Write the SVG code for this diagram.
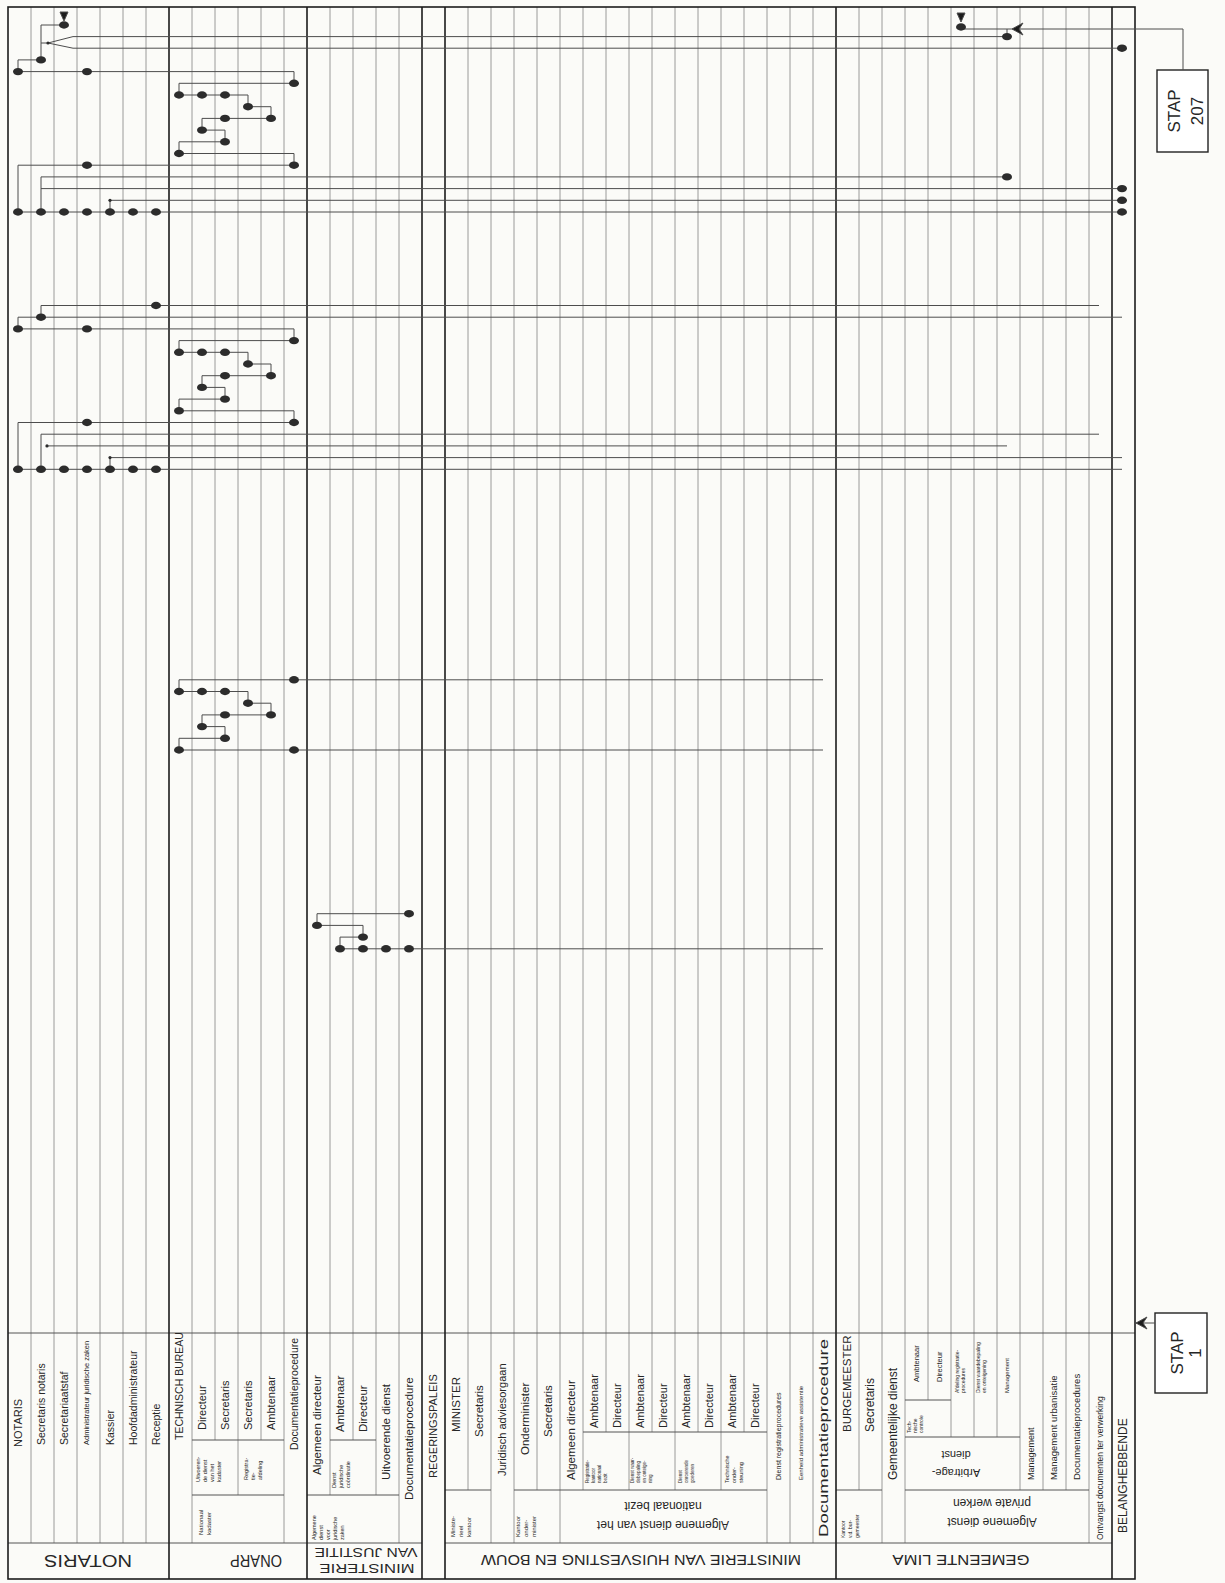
<svg xmlns="http://www.w3.org/2000/svg" width="1225" height="1583" viewBox="0 0 1225 1583">
<style>
.ln{stroke:#8e8e8e;stroke-width:0.9;fill:none}
.gd{stroke:#1c1c1c;stroke-width:1.6;fill:none}
.hl{stroke:#555;stroke-width:1;fill:none}
.c{stroke:#4d4d4d;stroke-width:1;fill:none}
.t{font-family:"Liberation Sans",Arial,sans-serif;fill:#262626}
.box{fill:#fff;stroke:#222;stroke-width:1.4}
</style>
<defs>
<ellipse id="dt" rx="5" ry="3.7" fill="#2c2c2c"/>
<circle id="sd" r="1.6" fill="#2c2c2c"/>
</defs>
<rect width="1225" height="1583" fill="#fbfbf8"/>

<g id="grid">
<path class="ln" d="M31,7V1543M54,7V1543M77,7V1543M100,7V1543M123,7V1543M146,7V1543
M192,7V1543M215,7V1440M238,7V1495M261,7V1440M284,7V1543
M330,7V1495M353,7V1440M376,7V1495M399,7V1543
M468,7V1490M491,7V1543M514,7V1543M537,7V1490M560,7V1543M583,7V1490M606,7V1432M629,7V1490M652,7V1432M675,7V1490M698,7V1432M721,7V1490M744,7V1432M767,7V1543M790,7V1543M813,7V1543
M859,7V1490M882,7V1543M905,7V1543M928,7V1400M951,7V1437M974,7V1437M997,7V1437M1020,7V1490M1043,7V1490M1066,7V1490M1089,7V1543"/>
<path class="hl" d="M8,1333H1135M8,1543H422M445,1543H1112
M192,1440H284M192,1495H284M330,1440H376M307,1495H399
M445,1490H491M514,1490H560M560,1490H767M583,1432H767
M836,1490H882M905,1400H951M905,1437H1020M905,1490H1089"/>
<path class="gd" d="M169,7V1579M307,7V1579M422,7V1579M445,7V1579M836,7V1579M1112,7V1579"/>
<rect x="8" y="7" width="1127" height="1572" fill="none" stroke="#1c1c1c" stroke-width="1.6"/>
</g>

<g id="labels" class="t">
<text font-size="11" transform="translate(22,1447) rotate(-90)">NOTARIS</text>
<text font-size="10.5" transform="translate(45,1445) rotate(-90)">Secretaris notaris</text>
<text font-size="10.5" transform="translate(68,1445) rotate(-90)">Secretariaatstaf</text>
<text font-size="7.5" transform="translate(89,1445) rotate(-90)">Administrateur juridische zaken</text>
<text font-size="10.5" transform="translate(114,1445) rotate(-90)">Kassier</text>
<text font-size="10.5" transform="translate(137,1445) rotate(-90)">Hoofdadministrateur</text>
<text font-size="10.5" transform="translate(160,1445) rotate(-90)">Receptie</text>
<text font-size="10.5" transform="translate(183,1440) rotate(-90)">TECHNISCH BUREAU</text>
<text font-size="11" transform="translate(206,1430) rotate(-90)">Directeur</text>
<text font-size="11" transform="translate(229,1430) rotate(-90)">Secretaris</text>
<text font-size="11" transform="translate(252,1430) rotate(-90)">Secretaris</text>
<text font-size="11" transform="translate(275,1430) rotate(-90)">Ambtenaar</text>
<text font-size="10.5" transform="translate(298,1450) rotate(-90)">Documentatieprocedure</text>
<text font-size="5.5" transform="translate(200,1482) rotate(-90)">Uitvoeren-</text>
<text font-size="5.5" transform="translate(207,1482) rotate(-90)">de dienst</text>
<text font-size="5.5" transform="translate(214,1482) rotate(-90)">van het</text>
<text font-size="5.5" transform="translate(221,1482) rotate(-90)">kadaster</text>
<text font-size="5.5" transform="translate(248,1480) rotate(-90)">Registra-</text>
<text font-size="5.5" transform="translate(255,1480) rotate(-90)">tie-</text>
<text font-size="5.5" transform="translate(262,1480) rotate(-90)">afdeling</text>
<text font-size="6" transform="translate(203,1535) rotate(-90)">Nationaal</text>
<text font-size="6" transform="translate(211,1535) rotate(-90)">kadaster</text>

<text font-size="11.5" transform="translate(321,1475) rotate(-90)">Algemeen directeur</text>
<text font-size="11.5" transform="translate(344,1432) rotate(-90)">Ambtenaar</text>
<text font-size="11.5" transform="translate(367,1432) rotate(-90)">Directeur</text>
<text font-size="11.5" transform="translate(390,1480) rotate(-90)">Uitvoerende dienst</text>
<text font-size="11.5" transform="translate(413,1500) rotate(-90)">Documentatieprocedure</text>
<text font-size="5.5" transform="translate(336,1488) rotate(-90)">Dienst</text>
<text font-size="5.5" transform="translate(343,1488) rotate(-90)">juridische</text>
<text font-size="5.5" transform="translate(350,1488) rotate(-90)">coördinatie</text>
<text font-size="5.5" transform="translate(316,1540) rotate(-90)">Algemene</text>
<text font-size="5.5" transform="translate(323,1540) rotate(-90)">dienst</text>
<text font-size="5.5" transform="translate(330,1540) rotate(-90)">voor</text>
<text font-size="5.5" transform="translate(337,1540) rotate(-90)">juridische</text>
<text font-size="5.5" transform="translate(344,1540) rotate(-90)">zaken</text>

<text font-size="11" transform="translate(437,1478) rotate(-90)">REGERINGSPALEIS</text>

<text font-size="11.5" transform="translate(460,1432) rotate(-90)">MINISTER</text>
<text font-size="11.5" transform="translate(483,1437) rotate(-90)">Secretaris</text>
<text font-size="11" transform="translate(506,1476) rotate(-90)">Juridisch adviesorgaan</text>
<text font-size="11.5" transform="translate(529,1455) rotate(-90)">Onderminister</text>
<text font-size="11.5" transform="translate(552,1437) rotate(-90)">Secretaris</text>
<text font-size="11.5" transform="translate(575,1480) rotate(-90)">Algemeen directeur</text>
<text font-size="11" transform="translate(598,1428) rotate(-90)">Ambtenaar</text>
<text font-size="11" transform="translate(621,1428) rotate(-90)">Directeur</text>
<text font-size="11" transform="translate(644,1428) rotate(-90)">Ambtenaar</text>
<text font-size="11" transform="translate(667,1428) rotate(-90)">Directeur</text>
<text font-size="11" transform="translate(690,1428) rotate(-90)">Ambtenaar</text>
<text font-size="11" transform="translate(713,1428) rotate(-90)">Directeur</text>
<text font-size="11" transform="translate(736,1428) rotate(-90)">Ambtenaar</text>
<text font-size="11" transform="translate(759,1428) rotate(-90)">Directeur</text>
<text font-size="7" transform="translate(781,1480) rotate(-90)">Dienst registratieprocedures</text>
<text font-size="6" transform="translate(803,1480) rotate(-90)">Eenheid administratieve assistentie</text>
<text font-size="12" transform="translate(828,1537) rotate(-90)" textLength="198" lengthAdjust="spacingAndGlyphs">Documentatieprocedure</text>
<text font-size="6" transform="translate(455,1537) rotate(-90)">Ministe-</text>
<text font-size="6" transform="translate(463,1537) rotate(-90)">rieel</text>
<text font-size="6" transform="translate(471,1537) rotate(-90)">kantoor</text>
<text font-size="6" transform="translate(520,1537) rotate(-90)">Kantoor</text>
<text font-size="6" transform="translate(528,1537) rotate(-90)">onder-</text>
<text font-size="6" transform="translate(536,1537) rotate(-90)">minister</text>
<text font-size="4.5" transform="translate(589,1483) rotate(-90)">Registratie-</text>
<text font-size="4.5" transform="translate(595,1483) rotate(-90)">kantoor</text>
<text font-size="4.5" transform="translate(601,1483) rotate(-90)">nationaal</text>
<text font-size="4.5" transform="translate(607,1483) rotate(-90)">bezit</text>
<text font-size="4.5" transform="translate(634,1483) rotate(-90)">Dienst waar-</text>
<text font-size="4.5" transform="translate(640,1483) rotate(-90)">debepaling</text>
<text font-size="4.5" transform="translate(646,1483) rotate(-90)">en onteige-</text>
<text font-size="4.5" transform="translate(652,1483) rotate(-90)">ning</text>
<text font-size="4.5" transform="translate(682,1483) rotate(-90)">Dienst</text>
<text font-size="4.5" transform="translate(688,1483) rotate(-90)">onroerende</text>
<text font-size="4.5" transform="translate(694,1483) rotate(-90)">goederen</text>
<text font-size="5.5" transform="translate(729,1483) rotate(-90)">Technische</text>
<text font-size="5.5" transform="translate(736,1483) rotate(-90)">onder-</text>
<text font-size="5.5" transform="translate(743,1483) rotate(-90)">steuning</text>

<text font-size="11.5" transform="translate(851,1432) rotate(-90)">BURGEMEESTER</text>
<text font-size="12" transform="translate(874,1432) rotate(-90)">Secretaris</text>
<text font-size="12" transform="translate(897,1480) rotate(-90)">Gemeentelijke dienst</text>
<text font-size="7.5" transform="translate(919,1382) rotate(-90)">Ambtenaar</text>
<text font-size="7.5" transform="translate(942,1382) rotate(-90)">Directeur</text>
<text font-size="5" transform="translate(911,1433) rotate(-90)">Tech-</text>
<text font-size="5" transform="translate(917,1433) rotate(-90)">nische</text>
<text font-size="5" transform="translate(923,1433) rotate(-90)">controle</text>
<text font-size="5" transform="translate(959,1393) rotate(-90)">Afdeling registratie-</text>
<text font-size="5" transform="translate(965,1393) rotate(-90)">procedures</text>
<text font-size="5" transform="translate(980,1393) rotate(-90)">Dienst waardebepaling</text>
<text font-size="5" transform="translate(986,1393) rotate(-90)">en onteigening</text>
<text font-size="6" transform="translate(1009,1393) rotate(-90)">Management</text>
<text font-size="9" transform="translate(1034,1480) rotate(-90)">Management</text>
<text font-size="9.5" transform="translate(1057,1480) rotate(-90)">Management urbanisatie</text>
<text font-size="9.5" transform="translate(1080,1480) rotate(-90)">Documentatieprocedures</text>
<text font-size="8.5" transform="translate(1103,1540) rotate(-90)">Ontvangst documenten ter verwerking</text>
<text font-size="12" transform="translate(1127,1533) rotate(-90)">BELANGHEBBENDE</text>
<text font-size="5" transform="translate(845,1538) rotate(-90)">Kantoor</text>
<text font-size="5" transform="translate(852,1538) rotate(-90)">v.d. bur-</text>
<text font-size="5" transform="translate(859,1538) rotate(-90)">gemeester</text>

<text font-size="12" text-anchor="middle" transform="translate(663,1521) rotate(180)">Algemene dienst van het</text>
<text font-size="12" text-anchor="middle" transform="translate(663,1502) rotate(180)">nationaal bezit</text>
<text font-size="11" text-anchor="middle" transform="translate(956,1469) rotate(180)">Arbitrage-</text>
<text font-size="11" text-anchor="middle" transform="translate(956,1451) rotate(180)">dienst</text>
<text font-size="12" text-anchor="middle" transform="translate(992,1518) rotate(180)">Algemene dienst</text>
<text font-size="12" text-anchor="middle" transform="translate(992,1499) rotate(180)">private werken</text>

<text font-size="16" text-anchor="middle" transform="translate(88,1555) rotate(180)" textLength="88" lengthAdjust="spacingAndGlyphs">NOTARIS</text>
<text font-size="16" text-anchor="middle" transform="translate(256,1555) rotate(180)" textLength="52" lengthAdjust="spacingAndGlyphs">ONARP</text>
<text font-size="13" text-anchor="middle" transform="translate(367,1564) rotate(180)" textLength="95" lengthAdjust="spacingAndGlyphs">MINISTERIE</text>
<text font-size="13" text-anchor="middle" transform="translate(366,1548) rotate(180)" textLength="103" lengthAdjust="spacingAndGlyphs">VAN JUSTITIE</text>
<text font-size="14" text-anchor="middle" transform="translate(641,1555) rotate(180)" textLength="320" lengthAdjust="spacingAndGlyphs">MINISTERIE VAN HUISVESTING EN BOUW</text>
<text font-size="14" text-anchor="middle" transform="translate(961,1555) rotate(180)" textLength="137" lengthAdjust="spacingAndGlyphs">GEMEENTE LIMA</text>
</g>

<g id="stap1">
<rect class="box" x="1155" y="1313" width="52" height="80"/>
<text class="t" font-size="17" text-anchor="middle" transform="translate(1183,1353) rotate(-90)">STAP</text>
<text class="t" font-size="17" text-anchor="middle" transform="translate(1201,1353) rotate(-90)">1</text>
</g>
<g id="stap207">
<rect class="box" x="1157" y="70" width="51" height="82"/>
<text class="t" font-size="17" text-anchor="middle" transform="translate(1180,111) rotate(-90)">STAP</text>
<text class="t" font-size="17" text-anchor="middle" transform="translate(1203,111) rotate(-90)">207</text>
</g>

<g id="connectors" class="c">
<path d="M1155,1323H1136"/>
<path d="M1136,1323l11,-6l-4,6l4,6z" fill="#1c1c1c"/>
<path d="M1183,70V29H961"/>
<path d="M1012,29l11,-6l-4,6l4,6z" fill="#1c1c1c"/>
<path d="M64,21l-4,-9h8z" fill="#1c1c1c"/>
<path d="M961,22l-4,-9h8z" fill="#1c1c1c"/>
<path d="M18,212V165.2H294M294,165.2V153.5H179M179,153.5V141.8H225M225,141.8V130.1H202M202,130.1V118.4H271M271,118.4V106.7H248M248,106.7V95H179M179,95V83.3H294M294,83.3V71.6H18M18,71.6V59.9H41M41,59.9V25H64"/>
<path d="M1007,36.6H73L48,43M1122,48.2H73L48,43H41M1007,36.6V29"/>
<path d="M18,212H1122M41,212V176.9H1007M41,188.6H1122M110,212V200.3H1122"/>
<path d="M18,469.3V422.5H294M294,422.5V410.8H179M179,410.8V399.1H225M225,399.1V387.4H202M202,387.4V375.7H271M271,375.7V364H248M248,364V352.3H179M179,352.3V340.6H294M294,340.6V328.9H18M18,328.9V317.2H1122M41,317.2V305.5H1099"/>
<path d="M18,469.3H1122M110,469.3V457.6H1122M47,445.9H1007M41,469.3V434.2H1099"/>
<path d="M179,750H823M179,750V738.3H225M225,738.3V726.6H202M202,726.6V714.9H271M271,714.9V703.2H248M248,703.2V691.5H179M179,691.5V679.8H823"/>
<path d="M340,948.8H823M340,948.8V937.1H363M363,937.1V925.4H317M317,925.4V913.7H409"/>
</g>

<g id="nodes">
<g id="n111_2"><use href="#dt" x="64" y="25"/></g>
<g id="n111_41"><use href="#dt" x="961" y="27"/></g>
<g id="n110_43"><use href="#dt" x="1007" y="36.6"/></g>
<g id="n109_48"><use href="#dt" x="1122" y="48.2"/></g>
<g id="j109"><use href="#sd" x="48" y="43"/></g>
<g id="n108_1"><use href="#dt" x="41" y="59.9"/></g>
<g id="n107_0"><use href="#dt" x="18" y="71.6"/></g>
<g id="n107_3"><use href="#dt" x="87" y="71.6"/></g>
<g id="n106_12"><use href="#dt" x="294" y="83.3"/></g>
<g id="n105_7"><use href="#dt" x="179" y="95"/></g>
<g id="n105_8"><use href="#dt" x="202" y="95"/></g>
<g id="n105_9"><use href="#dt" x="225" y="95"/></g>
<g id="n104_10"><use href="#dt" x="248" y="106.7"/></g>
<g id="n103_9"><use href="#dt" x="225" y="118.4"/></g>
<g id="n103_11"><use href="#dt" x="271" y="118.4"/></g>
<g id="n102_8"><use href="#dt" x="202" y="130.1"/></g>
<g id="n101_9"><use href="#dt" x="225" y="141.8"/></g>
<g id="n100_7"><use href="#dt" x="179" y="153.5"/></g>
<g id="n99_3"><use href="#dt" x="87" y="165.2"/></g>
<g id="n99_12"><use href="#dt" x="294" y="165.2"/></g>
<g id="n98_43"><use href="#dt" x="1007" y="176.9"/></g>
<g id="n97_48"><use href="#dt" x="1122" y="188.6"/></g>
<g id="n96_48"><use href="#dt" x="1122" y="200.3"/></g>
<g id="j96"><use href="#sd" x="110" y="200.3"/></g>
<g id="n95_0"><use href="#dt" x="18" y="212"/></g>
<g id="n95_1"><use href="#dt" x="41" y="212"/></g>
<g id="n95_2"><use href="#dt" x="64" y="212"/></g>
<g id="n95_3"><use href="#dt" x="87" y="212"/></g>
<g id="n95_4"><use href="#dt" x="110" y="212"/></g>
<g id="n95_5"><use href="#dt" x="133" y="212"/></g>
<g id="n95_6"><use href="#dt" x="156" y="212"/></g>
<g id="n95_48"><use href="#dt" x="1122" y="212"/></g>

<g id="n87_6"><use href="#dt" x="156" y="305.5"/></g>
<g id="n86_1"><use href="#dt" x="41" y="317.2"/></g>
<g id="n85_0"><use href="#dt" x="18" y="328.9"/></g>
<g id="n85_3"><use href="#dt" x="87" y="328.9"/></g>
<g id="n84_12"><use href="#dt" x="294" y="340.6"/></g>
<g id="n83_7"><use href="#dt" x="179" y="352.3"/></g>
<g id="n83_8"><use href="#dt" x="202" y="352.3"/></g>
<g id="n83_9"><use href="#dt" x="225" y="352.3"/></g>
<g id="n82_10"><use href="#dt" x="248" y="364"/></g>
<g id="n81_9"><use href="#dt" x="225" y="375.7"/></g>
<g id="n81_11"><use href="#dt" x="271" y="375.7"/></g>
<g id="n80_8"><use href="#dt" x="202" y="387.4"/></g>
<g id="n79_9"><use href="#dt" x="225" y="399.1"/></g>
<g id="n78_7"><use href="#dt" x="179" y="410.8"/></g>
<g id="n77_3"><use href="#dt" x="87" y="422.5"/></g>
<g id="n77_12"><use href="#dt" x="294" y="422.5"/></g>
<g id="j75"><use href="#sd" x="47" y="445.9"/></g>
<g id="j74"><use href="#sd" x="110" y="457.6"/></g>
<g id="n73_0"><use href="#dt" x="18" y="469.3"/></g>
<g id="n73_1"><use href="#dt" x="41" y="469.3"/></g>
<g id="n73_2"><use href="#dt" x="64" y="469.3"/></g>
<g id="n73_3"><use href="#dt" x="87" y="469.3"/></g>
<g id="n73_4"><use href="#dt" x="110" y="469.3"/></g>
<g id="n73_5"><use href="#dt" x="133" y="469.3"/></g>
<g id="n73_6"><use href="#dt" x="156" y="469.3"/></g>

<g id="n55_12"><use href="#dt" x="294" y="679.8"/></g>
<g id="n54_7"><use href="#dt" x="179" y="691.5"/></g>
<g id="n54_8"><use href="#dt" x="202" y="691.5"/></g>
<g id="n54_9"><use href="#dt" x="225" y="691.5"/></g>
<g id="n53_10"><use href="#dt" x="248" y="703.2"/></g>
<g id="n52_9"><use href="#dt" x="225" y="714.9"/></g>
<g id="n52_11"><use href="#dt" x="271" y="714.9"/></g>
<g id="n51_8"><use href="#dt" x="202" y="726.6"/></g>
<g id="n50_9"><use href="#dt" x="225" y="738.3"/></g>
<g id="n49_7"><use href="#dt" x="179" y="750"/></g>
<g id="n49_12"><use href="#dt" x="294" y="750"/></g>

<g id="n35_17"><use href="#dt" x="409" y="913.7"/></g>
<g id="n34_13"><use href="#dt" x="317" y="925.4"/></g>
<g id="n33_15"><use href="#dt" x="363" y="937.1"/></g>
<g id="n32_14"><use href="#dt" x="340" y="948.8"/></g>
<g id="n32_15"><use href="#dt" x="363" y="948.8"/></g>
<g id="n32_16"><use href="#dt" x="386" y="948.8"/></g>
<g id="n32_17"><use href="#dt" x="409" y="948.8"/></g>
</g>
</svg>
